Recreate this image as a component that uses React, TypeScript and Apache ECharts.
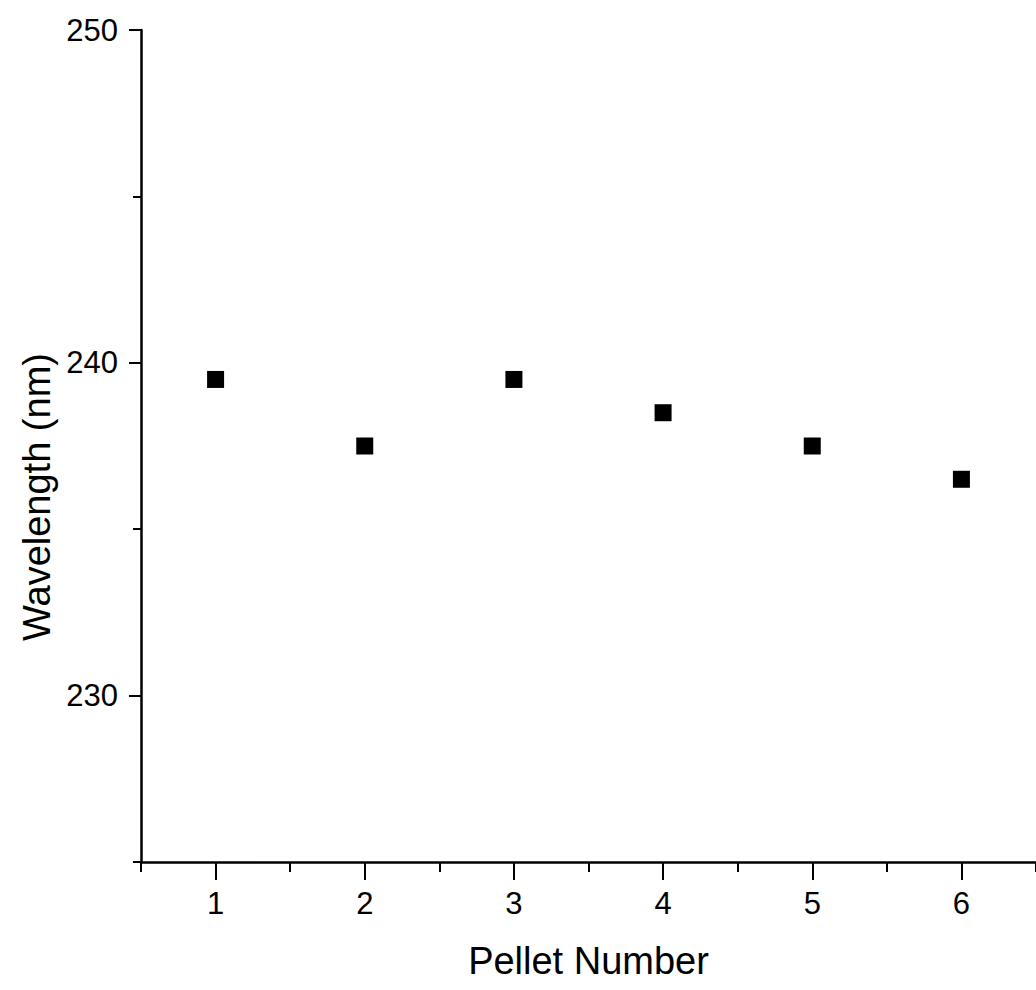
import React, { useEffect, useRef } from "react";
import * as echarts from "echarts";

// Peak wavelength measured for each pellet
const pelletNumbers = [1, 2, 3, 4, 5, 6];
const wavelengths = [239.5, 237.5, 239.5, 238.5, 237.5, 236.5];

// Axis ticks
const xMajorTicks = [1, 2, 3, 4, 5, 6];
const xMinorTicks = [0.5, 1.5, 2.5, 3.5, 4.5, 5.5, 6.5];
const yMajorTicks = [230, 240, 250];
const yMinorTicks = [225, 235, 245];

const FONT = "'Liberation Sans', Arial, Helvetica, sans-serif";
const TICK_FONT = "'Liberation Sans Narrow', 'Arial Narrow', 'Liberation Sans', sans-serif";

export default function App() {
  const ref = useRef<HTMLDivElement>(null);

  useEffect(() => {
    if (!ref.current) return;
    const chart = echarts.init(ref.current, null, { renderer: "svg" });

    const lineStyle = { color: "#000", width: 2.5 };
    const tickStyle = { color: "#000", width: 2 };

    chart.setOption({
      animation: false,
      backgroundColor: "#fff",
      grid: { left: 141, right: -7, top: 30, bottom: 128, containLabel: false },
      xAxis: [
        {
          type: "value",
          min: 0.5,
          max: 6.5,
          interval: 0.5,
          position: "bottom",
          splitLine: { show: false },
          axisLine: { show: true, onZero: false, lineStyle },
          axisTick: {
            show: true,
            inside: false,
            length: 18,
            lineStyle: tickStyle,
            customValues: xMajorTicks,
          },
          axisLabel: {
            show: true,
            customValues: xMajorTicks,
            margin: 26,
            color: "#000",
            fontSize: 31,
            fontFamily: TICK_FONT,
          },
          name: "Pellet Number",
          nameLocation: "middle",
          nameGap: 80,
          nameTextStyle: { color: "#000", fontSize: 38, fontFamily: FONT },
        },
        {
          type: "value",
          min: 0.5,
          max: 6.5,
          interval: 0.5,
          position: "bottom",
          splitLine: { show: false },
          axisLine: { show: false },
          axisLabel: { show: false },
          axisTick: {
            show: true,
            length: 10,
            lineStyle: tickStyle,
            customValues: xMinorTicks,
          },
        },
      ],
      yAxis: [
        {
          type: "value",
          min: 225,
          max: 250,
          interval: 5,
          position: "left",
          splitLine: { show: false },
          axisLine: { show: true, onZero: false, lineStyle },
          axisTick: {
            show: true,
            length: 12,
            lineStyle: tickStyle,
            customValues: yMajorTicks,
          },
          axisLabel: {
            show: true,
            customValues: yMajorTicks,
            margin: 23,
            color: "#000",
            fontSize: 31,
            fontFamily: TICK_FONT,
          },
        },
        {
          type: "value",
          min: 225,
          max: 250,
          interval: 5,
          position: "left",
          splitLine: { show: false },
          axisLine: { show: false },
          axisLabel: { show: false },
          axisTick: {
            show: true,
            length: 8,
            lineStyle: tickStyle,
            customValues: yMinorTicks,
          },
        },
      ],
      graphic: [
        {
          type: "text",
          x: 37,
          y: 497,
          rotation: Math.PI / 2,
          style: {
            text: "Wavelength (nm)",
            fill: "#000",
            font: `38px ${FONT}`,
            align: "center",
            verticalAlign: "middle",
          },
        },
      ],
      series: [
        {
          type: "scatter",
          xAxisIndex: 0,
          yAxisIndex: 0,
          symbol: "rect",
          symbolSize: 17,
          itemStyle: { color: "#000", opacity: 1 },
          data: pelletNumbers.map((p, i) => [p, wavelengths[i]]),
        },
      ],
    });

    return () => chart.dispose();
  }, []);

  return (
    <div
      ref={ref}
      style={{ position: "fixed", left: 0, top: 0, width: 1036, height: 990, background: "#fff" }}
    />
  );
}
